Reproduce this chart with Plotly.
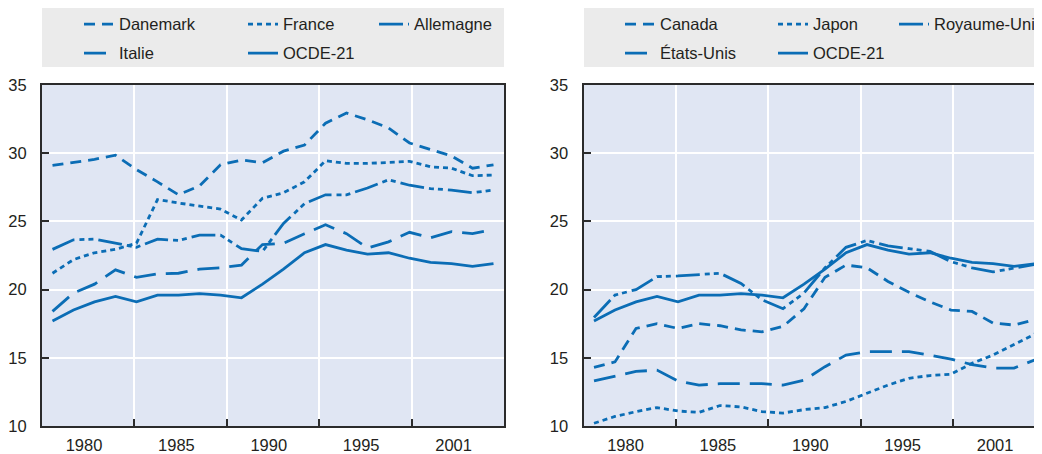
import plotly.graph_objects as go

# ---------------- data ----------------
years = list(range(1980, 2002))          # 22 annual observations
x_tick_labels = ["1980", "1985", "1990", "1995", "2001"]
y_tick_values = [10, 15, 20, 25, 30, 35]

oecd21 = [17.7, 18.5, 19.1, 19.5, 19.1, 19.6, 19.6, 19.7, 19.6, 19.4, 20.4, 21.5,
          22.7, 23.3, 22.9, 22.6, 22.7, 22.3, 22.0, 21.9, 21.7, 21.9]
danemark = [29.1, 29.3, 29.55, 29.85, 28.8, 27.9, 26.95, 27.6, 29.15, 29.5, 29.3, 30.15,
            30.6, 32.2, 32.95, 32.45, 31.85, 30.75, 30.3, 29.8, 28.9, 29.15]
france = [21.2, 22.2, 22.7, 22.95, 23.4, 26.6, 26.35, 26.15, 25.9, 25.1, 26.7, 27.1,
          27.9, 29.45, 29.25, 29.25, 29.35, 29.4, 29.0, 28.9, 28.35, 28.4]
allemagne = [22.95, 23.65, 23.7, 23.4, 23.1, 23.7, 23.6, 24.0, 24.0, 23.0, 22.8, 24.85,
             26.3, 26.95, 26.95, 27.45, 28.05, 27.65, 27.4, 27.3, 27.1, 27.3]
italie = [18.4, 19.75, 20.4, 21.45, 20.9, 21.15, 21.2, 21.5, 21.6, 21.8, 23.3, 23.4,
          24.1, 24.75, 24.1, 23.05, 23.5, 24.2, 23.8, 24.25, 24.1, 24.4]

canada = [14.3, 14.7, 17.15, 17.5, 17.15, 17.5, 17.35, 17.05, 16.9, 17.3, 18.6, 20.9,
          21.8, 21.6, 20.6, 19.8, 19.1, 18.5, 18.4, 17.55, 17.4, 17.8]
japon = [10.2, 10.7, 11.05, 11.35, 11.1, 11.0, 11.5, 11.4, 11.05, 10.95, 11.2, 11.35,
         11.8, 12.4, 13.0, 13.5, 13.7, 13.8, 14.6, 15.2, 15.95, 16.75]
royaume_uni = [17.95, 19.6, 20.0, 20.95, 21.0, 21.1, 21.2, 20.45, 19.25, 18.6, 19.75, 21.6,
               23.1, 23.6, 23.2, 23.0, 22.8, 22.05, 21.6, 21.3, 21.6, 21.85]
etats_unis = [13.3, 13.65, 14.0, 14.1, 13.3, 13.0, 13.1, 13.1, 13.1, 13.0, 13.35, 14.35,
              15.2, 15.45, 15.45, 15.45, 15.2, 14.9, 14.5, 14.25, 14.25, 14.85]

left_series = [("Danemark", danemark, "dash"), ("France", france, "dot"),
               ("Allemagne", allemagne, "ddd"), ("Italie", italie, "long"),
               ("OCDE-21", oecd21, "solid")]
right_series = [("Canada", canada, "dash"), ("Japon", japon, "dot"),
                ("Royaume-Uni", royaume_uni, "ddd"), ("États-Unis", etats_unis, "long"),
                ("OCDE-21", oecd21, "solid")]

# ---------------- style ----------------
PAGE_W, PAGE_H = 1042, 454
BODY = 8                                  # default page margin around the figure
W, H = PAGE_W - BODY, PAGE_H - BODY
BLUE = "#0b6db5"
PLOT_BG = "#e0e6f3"
LEG_BG = "#ebebeb"
AX = "#2b2b2b"
TXT = "#231f20"
FONT = "Liberation Sans, Arial, sans-serif"
FSIZE = 16.5
DASHES = {"dash": "11px,7px", "dot": "5px,4px", "ddd": "24px,5px,5px,4px,5px,5px",
          "long": "22px,10px", "solid": "solid"}

def fx(p):           # page pixel -> paper fraction
    return (p - BODY) / W

def fy(p):
    return 1 - (p - BODY) / H

# legend item text positions (page pixels) : (text_x, row_y)
left_leg_pos = [(119, 24.3), (283, 24.3), (414, 24.3), (119, 53.3), (283, 53.3)]
right_leg_pos = [(660, 24.3), (813, 24.3), (934, 24.3), (660, 53.3), (813, 53.3)]
TEXT_OFFSET = 40

fig = go.Figure()
legend_layouts = {}
n = 0
for series, positions, xa, ya in ((left_series, left_leg_pos, "x", "y"),
                                   (right_series, right_leg_pos, "x2", "y2")):
    for (name, vals, style), (tx, ty) in zip(series, positions):
        n += 1
        key = "legend" if n == 1 else f"legend{n}"
        fig.add_trace(go.Scatter(
            x=years, y=vals, name=name, mode="lines", xaxis=xa, yaxis=ya,
            line=dict(color=BLUE, width=2.8, dash=DASHES[style]),
            legend=key, showlegend=True, hoverinfo="skip"))
        legend_layouts[key] = dict(
            x=fx(tx - TEXT_OFFSET), y=fy(ty), xanchor="left", yanchor="middle",
            orientation="h", bgcolor="rgba(0,0,0,0)", borderwidth=0,
            font=dict(family=FONT, size=FSIZE, color=TXT))

# axes geometry (page pixels)
x0 = years[0] - 0.5
span = len(years)
left_px = (42, 504)
plot_w = left_px[1] - left_px[0]
right_px = (583.5, PAGE_W)
right_end = x0 + span * (right_px[1] - right_px[0]) / plot_w
grid_x = [x0 + span * k / 5 for k in range(1, 5)]
label_x = [x0 + span * (k + 0.5) / 5 - 0.2 for k in range(5)]
ydom = [fy(426), fy(85)]

def xaxis(domain, rng, anchor):
    return dict(domain=domain, range=rng, anchor=anchor,
                tickmode="array", tickvals=label_x, ticktext=x_tick_labels,
                ticks="", showgrid=False, zeroline=False,
                showline=True, linecolor=AX, linewidth=2, mirror=True,
                ticklabelstandoff=3,
                tickfont=dict(family=FONT, size=FSIZE, color=TXT),
                minor=dict(tickmode="array", tickvals=grid_x, ticks="inside",
                           ticklen=7, tickwidth=1.5, tickcolor=AX,
                           showgrid=True, gridcolor="white", gridwidth=1.5))

def yaxis(domain, anchor, mirror):
    return dict(domain=domain, range=[10, 35], anchor=anchor,
                tickmode="array", tickvals=y_tick_values,
                ticks="inside", ticklen=7, tickwidth=1.5, tickcolor=AX,
                showgrid=True, gridcolor="white", gridwidth=1.5, zeroline=False,
                showline=True, linecolor=AX, linewidth=2, mirror=mirror,
                ticklabelstandoff=10,
                tickfont=dict(family=FONT, size=FSIZE, color=TXT))

shapes = [
    dict(type="rect", xref="paper", yref="paper", layer="below",
         x0=fx(42), x1=fx(504), y0=fy(67), y1=fy(6),
         fillcolor=LEG_BG, line=dict(width=0)),
    dict(type="rect", xref="paper", yref="paper", layer="below",
         x0=fx(584), x1=1.0, y0=fy(67), y1=fy(6),
         fillcolor=LEG_BG, line=dict(width=0)),
]

fig.update_layout(
    width=W, height=H,
    margin=dict(l=0, r=0, t=0, b=0, autoexpand=False),
    showlegend=True,
    paper_bgcolor="white", plot_bgcolor=PLOT_BG,
    font=dict(family=FONT, size=FSIZE, color=TXT),
    xaxis=xaxis([fx(left_px[0]), fx(left_px[1])], [x0, x0 + span], "y"),
    yaxis=yaxis(ydom, "x", True),
    xaxis2=xaxis([fx(right_px[0]), 1.0], [x0, right_end], "y2"),
    yaxis2=yaxis(ydom, "x2", False),
    shapes=shapes,
    **legend_layouts,
)

fig.write_html("out.html")
